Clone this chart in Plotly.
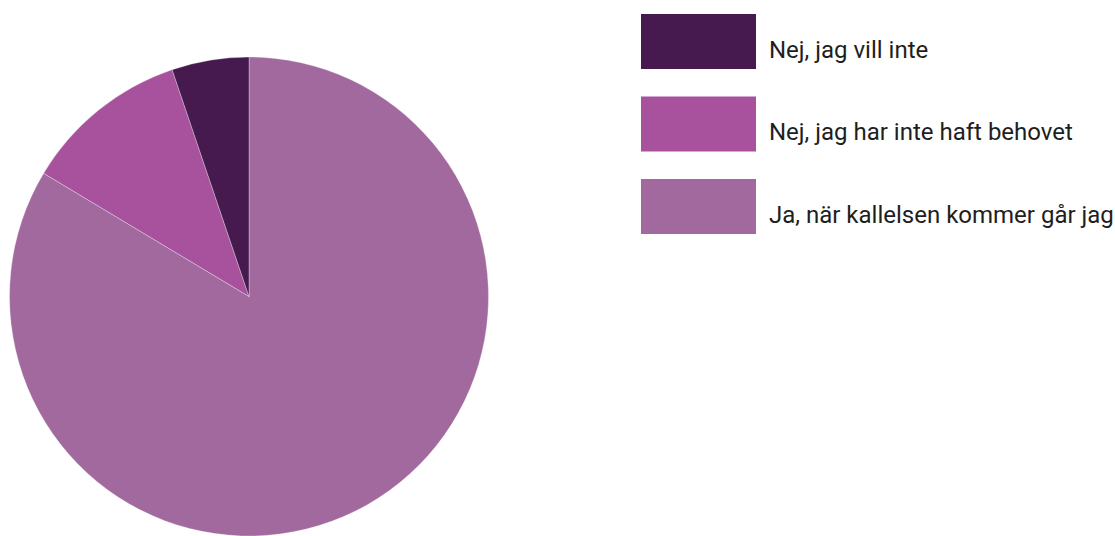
import plotly.graph_objects as go

# Survey answers and their shares (percent)
labels = ["Nej, jag vill inte", "Nej, jag har inte haft behovet", "Ja, när kallelsen kommer går jag"]
values = [5.2, 11.2, 83.6]
colors = ["#461a4f", "#a8529e", "#a2699e"]

W, H = 1115, 536

# Slices run clockwise from 12 o'clock in reverse order, so the first answer
# sits just left of the top
fig = go.Figure(
    go.Pie(
        labels=labels[::-1],
        values=values[::-1],
        sort=False,
        direction="clockwise",
        rotation=0,
        marker=dict(colors=colors[::-1], line=dict(color="rgba(255,255,255,0.6)", width=0.5)),
        textinfo="none",
        hoverinfo="label+percent",
        domain=dict(x=[9 / W, 489 / W], y=[0, 479 / H]),
        showlegend=False,
    )
)

# Custom legend: large colour swatches with labels beside them
box_x0, box_x1 = 641, 756
box_top0, box_h, step = 14, 55, 82.5
shapes, annotations = [], []
for i, (lab, col) in enumerate(zip(labels, colors)):
    top = box_top0 + i * step
    shapes.append(dict(
        type="rect", xref="paper", yref="paper",
        x0=box_x0 / W, x1=box_x1 / W,
        y0=1 - (top + box_h) / H, y1=1 - top / H,
        fillcolor=col, line=dict(width=0),
    ))
    annotations.append(dict(
        text=lab, xref="paper", yref="paper",
        x=767 / W, y=1 - (top + 36) / H,
        xanchor="left", yanchor="middle", showarrow=False,
        font=dict(family="Roboto", size=24, color="#1e1e1e"),
    ))

fig.update_layout(
    width=W, height=H,
    margin=dict(l=0, r=0, t=0, b=0),
    paper_bgcolor="white", plot_bgcolor="white",
    shapes=shapes, annotations=annotations,
)

fig.write_html("out.html")
